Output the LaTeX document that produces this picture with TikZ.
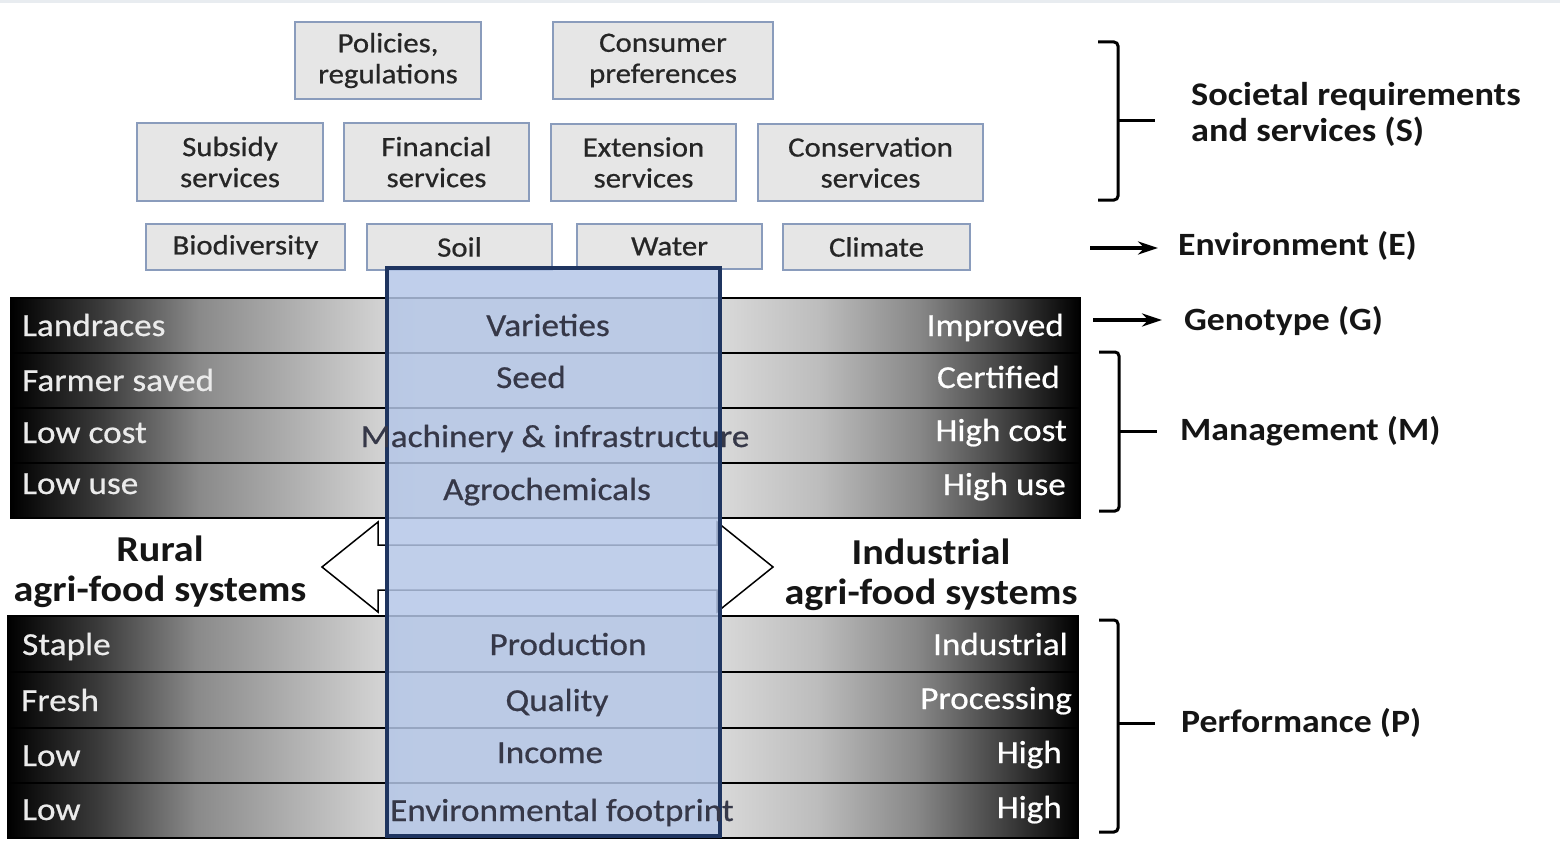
\documentclass[tikz,border=0pt]{standalone}
\usepackage{fontspec}
\setmainfont{Carlito}[FakeStretch=1.1]
\newfontfamily\heavyfont{Carlito}[FakeStretch=1.1, FakeBold=0.6]
\usetikzlibrary{arrows.meta}
\definecolor{boxfill}{HTML}{E6E6E6}
\definecolor{boxdraw}{HTML}{8A9CBC}
\definecolor{boxtext}{HTML}{262626}
\definecolor{colfill}{HTML}{B4C6E7}
\definecolor{colborder}{HTML}{1F3560}
\definecolor{coltext}{HTML}{363848}
\definecolor{toplinecol}{HTML}{E8ECF0}
\definecolor{lbltext}{HTML}{151515}
\pgfdeclarehorizontalshading{barshade}{100bp}{rgb(0bp)=(0,0,0); rgb(25bp)=(0,0,0); rgb(29.2bp)=(0.23,0.23,0.23); rgb(33.8bp)=(0.54,0.54,0.54); rgb(44bp)=(0.88,0.88,0.88); rgb(57bp)=(0.88,0.88,0.88); rgb(62.8bp)=(0.74,0.74,0.74); rgb(67.5bp)=(0.53,0.53,0.53); rgb(71.3bp)=(0.27,0.27,0.27); rgb(75bp)=(0,0,0); rgb(100bp)=(0,0,0)}
\tikzset{
  tbox/.style={draw=boxdraw, line width=2pt, fill=boxfill, text=boxtext, align=center, inner sep=0pt, font=\heavyfont\fontsize{28}{31}\selectfont},
  barbox/.style={shading=barshade, draw=black, line width=1.8pt},
  leftlbl/.style={anchor=base west, text=black!8, font=\heavyfont\fontsize{32}{36}\selectfont, inner sep=0pt},
  rightlbl/.style={anchor=base east, text=white, font=\heavyfont\fontsize{32}{36}\selectfont, inner sep=0pt},
  midlbl/.style={anchor=base, text=coltext, font=\heavyfont\fontsize{32}{36}\selectfont, inner sep=0pt},
  sidelbl/.style={anchor=base west, text=lbltext, font=\bfseries\fontsize{32.5}{36}\selectfont, inner sep=0pt},
  syslbl/.style={text=lbltext, align=center, font=\bfseries\fontsize{36.5}{40}\selectfont, inner sep=0pt},
  brack/.style={line width=3pt, rounded corners=4pt, black},
  sidearrow/.style={line width=3.5pt, -{Stealth[length=20pt,width=13pt]}},
  hollow/.style={fill=white, draw=black, line width=1.5pt, line join=miter}
}
\begin{document}
\begin{tikzpicture}[x=1pt,y=-1pt]
\useasboundingbox (0,0) rectangle (1560,856);
\fill[toplinecol] (0,0) rectangle (1560,3);

% top boxes
\node[tbox, minimum width=186pt, minimum height=77pt] (pol) at (388,60.5) {Policies,\\regulations};
\node[tbox, minimum width=220pt, minimum height=77pt] (con) at (663,60.5) {Consumer\\preferences};
\node[tbox, minimum width=186pt, minimum height=78pt] (sub) at (230,162) {Subsidy\\services};
\node[tbox, minimum width=185pt, minimum height=78pt] (fin) at (436.5,162) {Financial\\services};
\node[tbox, minimum width=185pt, minimum height=77pt] (ext) at (643.5,162.5) {Extension\\services};
\node[tbox, minimum width=225pt, minimum height=77pt] (cons) at (870.5,162.5) {Conservation\\services};
\node[tbox, minimum width=199pt, minimum height=46pt] (bio) at (245.5,247) {Biodiversity};
\node[tbox, minimum width=185pt, minimum height=46pt] (soil) at (459.5,247) {Soil};
\node[tbox, minimum width=185pt, minimum height=45pt] (wat) at (669.5,246.5) {Water};
\node[tbox, minimum width=187pt, minimum height=46pt] (cli) at (876.5,247) {Climate};

% bars
\foreach \a/\b in {298/353, 353/408, 408/463, 463/518}
  \shadedraw[barbox] (11,\a) rectangle (1080,\b);
\foreach \a/\b in {616/672, 672/728, 728/783, 783/838}
  \shadedraw[barbox] (8,\a) rectangle (1078,\b);

% double arrow
\draw[hollow] (322,567) -- (378,522) -- (378,545) -- (717,545) -- (717,522) -- (773,567)
  -- (717,612) -- (717,590) -- (378,590) -- (378,612) -- cycle;

% central column
\node[draw=colborder, line width=3.5pt, fill=colfill, fill opacity=0.84, draw opacity=1,
  minimum width=333pt, minimum height=568pt, inner sep=0pt] (col) at (553.5,552) {};

% left labels
\node[leftlbl] (l1) at (22,336) {Landraces};
\node[leftlbl] (l2) at (22,391) {Farmer saved};
\node[leftlbl] (l3) at (22,443) {Low cost};
\node[leftlbl] (l4) at (22,494) {Low use};
\node[leftlbl] (l5) at (22,655) {Staple};
\node[leftlbl] (l6) at (21,711) {Fresh};
\node[leftlbl] (l7) at (22,766) {Low};
\node[leftlbl] (l8) at (22,820) {Low};

% right labels
\node[rightlbl] (r1) at (1064,336) {Improved};
\node[rightlbl] (r2) at (1060,388) {Certified};
\node[rightlbl] (r3) at (1067,441) {High cost};
\node[rightlbl] (r4) at (1066,495) {High use};
\node[rightlbl] (r5) at (1068,655) {Industrial};
\node[rightlbl] (r6) at (1072,709) {Processing};
\node[rightlbl] (r7) at (1062,763) {High};
\node[rightlbl] (r8) at (1062,818) {High};

% middle labels
\node[midlbl] (m1) at (548,336) {Varieties};
\node[midlbl] (m2) at (531,388) {Seed};
\node[midlbl] (m3) at (555,447) {Machinery \& infrastructure};
\node[midlbl] (m4) at (547,500) {Agrochemicals};
\node[midlbl] (m5) at (568,655) {Production};
\node[midlbl] (m6) at (557,711) {Quality};
\node[midlbl] (m7) at (550,763) {Income};
\node[midlbl] (m8) at (562,821) {Environmental footprint};

% system labels
\node[syslbl] (rural) at (160,572) {Rural\\agri-food systems};
\node[syslbl] (indus) at (931,575) {Industrial\\agri-food systems};

% side labels
\node[text=lbltext, font=\bfseries\fontsize{33}{36}\selectfont, inner sep=0pt, align=left, anchor=west] (soc) at (1191,114) {Societal requirements\\and services (S)};
\node[sidelbl] (env) at (1178,255) {Environment (E)};
\node[sidelbl] (gen) at (1184,330) {Genotype (G)};
\node[sidelbl] (man) at (1180,440) {Management (M)};
\node[sidelbl] (perf) at (1181,732) {Performance (P)};

% brackets
\draw[brack] (1098,42) -- (1118,42) -- (1118,200) -- (1098,200);
\draw[line width=3pt] (1118,121) -- (1155,121);
\draw[brack] (1099,352) -- (1119,352) -- (1119,511) -- (1099,511);
\draw[line width=3pt] (1119,431) -- (1157,431);
\draw[brack] (1099,620) -- (1118,620) -- (1118,832) -- (1099,832);
\draw[line width=3pt] (1118,723) -- (1155,723);

% arrows
\coordinate (ea) at (1090,248);
\coordinate (ga) at (1093,320);
\draw[sidearrow] (ea) -- ([xshift=-20pt]env.west |- ea);
\draw[sidearrow] (ga) -- ([xshift=-22pt]gen.west |- ga);
\end{tikzpicture}
\end{document}
